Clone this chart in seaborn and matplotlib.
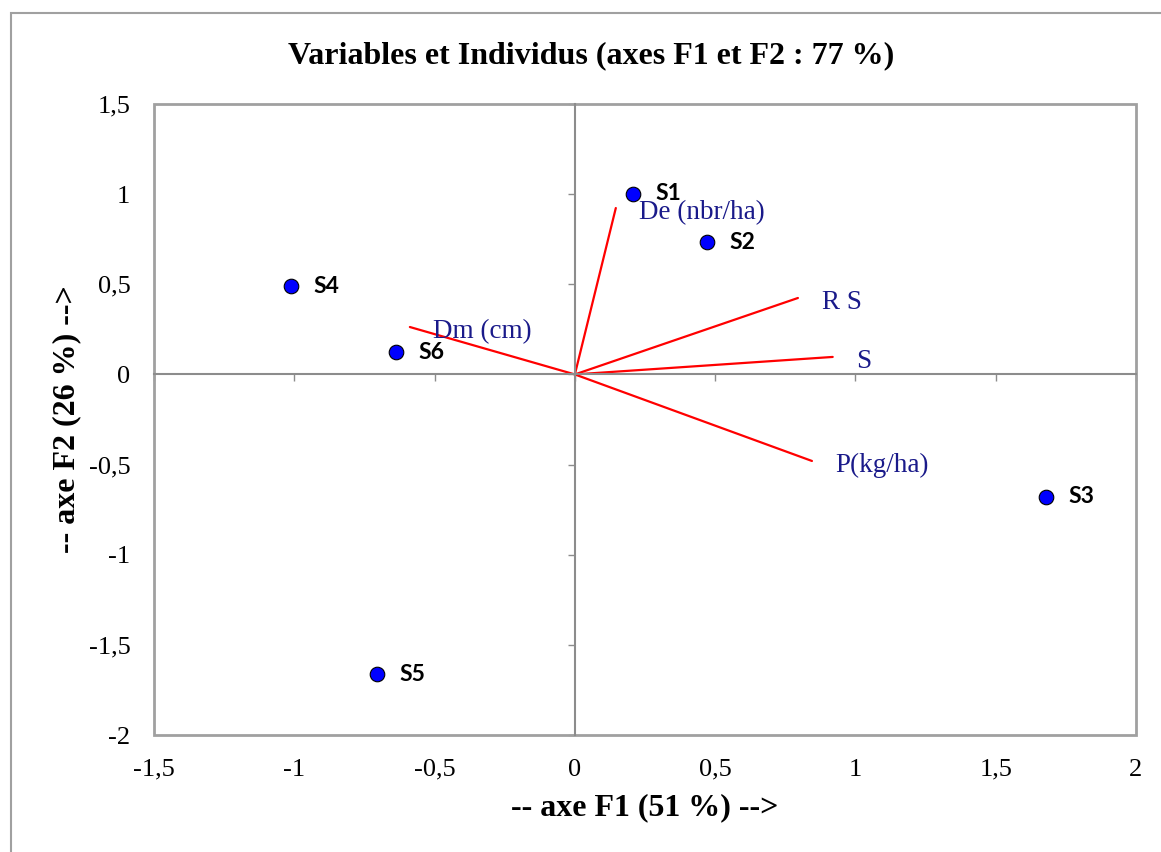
import numpy as np
import pandas as pd
import matplotlib.pyplot as plt
import matplotlib.patches as mpatches
from matplotlib.ticker import FuncFormatter
import seaborn as sns

# individuals (observations)
ind_names = ['S1', 'S2', 'S3', 'S4', 'S5', 'S6']
ind_f1 = [0.207, 0.470, 1.679, -1.012, -0.706, -0.638]
ind_f2 = [1.003, 0.734, -0.679, 0.490, -1.662, 0.124]

# variables (correlation vectors)
var_names = ['De (nbr/ha)', 'R S', 'S', 'P(kg/ha)', 'Dm (cm)']
var_f1 = [0.146, 0.795, 0.919, 0.845, -0.588]
var_f2 = [0.923, 0.424, 0.097, -0.480, 0.263]

xticks = np.arange(-1.5, 2.01, 0.5)
yticks = np.arange(-2.0, 1.51, 0.5)

sns.set_style("white")
plt.rcParams['font.family'] = ['Liberation Serif', 'DejaVu Serif']
plt.rcParams['text.color'] = 'black'
plt.rcParams['axes.labelcolor'] = 'black'
plt.rcParams['xtick.color'] = 'black'
plt.rcParams['ytick.color'] = 'black'

df_ind = pd.DataFrame({'F1': ind_f1, 'F2': ind_f2, 'name': ind_names})

fig = plt.figure(figsize=(11.61, 8.52), dpi=100)
ax = fig.add_axes([154 / 1161, 117 / 852, 982 / 1161, 631 / 852])

gray = '#a0a0a0'
navy = '#1a1a8a'

# outer chart frame
frame = mpatches.Rectangle((11 / 1161, -0.05), 1.1, 1 - 13 / 852 + 0.05,
                           transform=fig.transFigure, fill=False,
                           edgecolor=gray, lw=1.5, clip_on=False)
fig.patches.append(frame)

ax.set_xlim(-1.5, 2)
ax.set_ylim(-2, 1.5)

# axes crossing at zero with tick marks, labels kept at the edges
for side in ['top', 'right']:
    ax.spines[side].set_visible(False)
ax.spines['left'].set_position(('data', 0))
ax.spines['bottom'].set_position(('data', 0))
for side in ['left', 'bottom']:
    ax.spines[side].set_color('#8c8c8c')
    ax.spines[side].set_linewidth(1.5)
ax.set_xticks(xticks)
ax.set_yticks(yticks)
ax.tick_params(direction='out', length=5, width=1, color='#8c8c8c',
               labelleft=False, labelbottom=False, left=True, bottom=True)

box = mpatches.Rectangle((0, 0), 1, 1, transform=ax.transAxes, fill=False,
                         edgecolor=gray, lw=2, clip_on=False, zorder=1)
ax.add_patch(box)

fmt = FuncFormatter(lambda v, p: f"{v:g}".replace('.', ','))
secx = ax.secondary_xaxis('bottom')
secx.set_xticks(xticks)
secx.xaxis.set_major_formatter(fmt)
secx.tick_params(length=0, pad=17, labelsize=19)
secx.spines['bottom'].set_visible(False)
secx.set_xlabel('-- axe F1 (51 %) -->', fontsize=23, fontweight='bold', labelpad=9)

secy = ax.secondary_yaxis('left')
secy.set_yticks(yticks)
secy.yaxis.set_major_formatter(fmt)
secy.tick_params(length=0, pad=17, labelsize=19)
secy.spines['left'].set_visible(False)
secy.set_ylabel('-- axe F2 (26 %) -->', fontsize=23, fontweight='bold', labelpad=5)

# variable vectors
for x, y, name in zip(var_f1, var_f2, var_names):
    ax.plot([0, x], [0, y], color='red', lw=1.6, zorder=2)
    ax.annotate(name, (x, y), xytext=(17, -3), textcoords='offset points',
                ha='left', va='center', fontsize=19.5, color=navy)

# individuals
sns.scatterplot(data=df_ind, x='F1', y='F2', ax=ax, s=110, color='#0000ff',
                edgecolor='black', linewidth=0.8, zorder=3)
for x, y, name in zip(ind_f1, ind_f2, ind_names):
    ax.annotate(name, (x, y), xytext=(16, 0), textcoords='offset points',
                ha='left', va='center', fontsize=16.5, fontweight='bold',
                family=['Lato', 'DejaVu Sans'], color='black')

ax.set_xlabel('')
ax.set_ylabel('')

fig.text(591 / 1161, 1 - 56 / 852, 'Variables et Individus (axes F1 et F2 : 77 %)',
         ha='center', va='center', fontsize=23, fontweight='bold')

fig.savefig('out.png', dpi=100)
